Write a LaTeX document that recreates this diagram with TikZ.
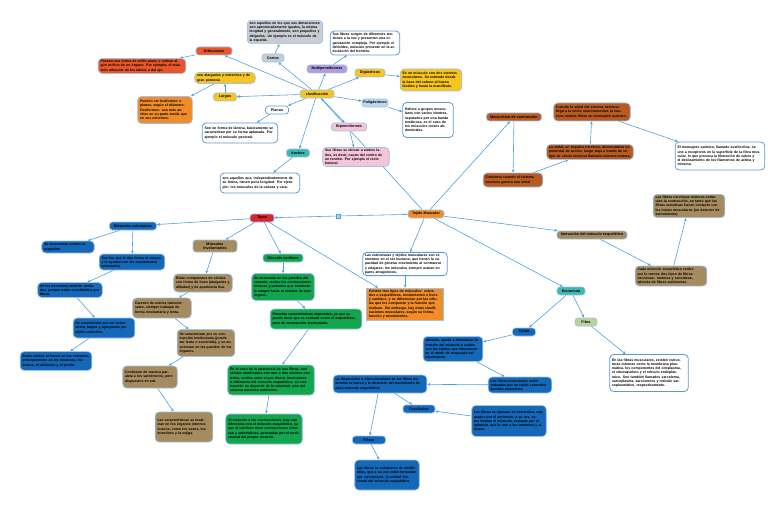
\documentclass[tikz,border=0pt]{standalone}
\usepackage{fontspec}
\setmainfont{Liberation Sans}
\usetikzlibrary{arrows.meta}
\definecolor{linec}{HTML}{4FA3DB}
\definecolor{bord}{HTML}{9DC3E6}
\definecolor{wbord}{HTML}{5B9BD5}
\definecolor{cblue}{HTML}{1567B8}
\definecolor{ctan}{HTML}{A58B5E}
\definecolor{crust}{HTML}{B85B22}
\definecolor{cgreen}{HTML}{13A54E}
\definecolor{corange}{HTML}{F28C28}
\definecolor{cred}{HTML}{D9262E}
\definecolor{cored}{HTML}{E8562A}
\definecolor{cyellow}{HTML}{F7C51E}
\definecolor{cteal}{HTML}{3DB8B3}
\definecolor{clgreen}{HTML}{B8D49C}
\definecolor{cpink}{HTML}{F6C4DA}
\definecolor{clblue}{HTML}{BCD8F0}
\definecolor{cpurple}{HTML}{B49BD9}
\definecolor{cgrey}{HTML}{C8CDD3}
\pgfdeclarelayer{background}
\pgfsetlayers{background,main}
\tikzset{
  box/.style={rounded corners=4pt, draw=bord, line width=0.7pt, inner xsep=2.3pt, inner ysep=1.5pt, align=left, font=\fontsize{3.5}{4.25}\selectfont\bfseries},
  wbox/.style={box, fill=white, draw=wbord, line width=0.8pt},
  lab/.style={rounded corners=3pt, draw=bord, line width=0.7pt, inner sep=1pt, minimum height=8pt, align=center, font=\fontsize{3.7}{4.4}\selectfont\bfseries},
  conn/.style={draw=linec, line width=0.6pt, -{Stealth[length=3.2pt,width=2.8pt]}},
  plain/.style={draw=linec, line width=0.6pt}
}
\begin{document}
\begin{tikzpicture}[x=1pt,y=-1pt]
\path[use as bounding box] (0,0) rectangle (768,508);
% ---------- top cluster ----------
\node[lab, fill=cyellow, minimum width=34pt] (clasif) at (317,94) {clasificación};
\node[lab, fill=cgrey, minimum width=22pt] (cortos) at (273,58) {Cortos};
\node[box, fill=cgrey, text width=71pt, minimum height=22pt] (cortosT) at (285,32) {son aquellos en los que sus dimensiones son aproximadamente iguales, la misma longitud y generalmente, son pequeños y delgados. Un ejemplo es el músculo de la espalda.};
\node[lab, fill=cored, minimum width=36pt] (orbic) at (214,51) {Orbiculares};
\node[box, fill=cored, text width=83pt, minimum height=15pt] (orbicT) at (142,66) {Poseen una forma de anillo plano y rodean algún orificio de un órgano. Por ejemplo, el músculo orbicular de los labios o del ojo.};
\node[box, fill=cyellow, text width=56pt, minimum height=11pt] (largosT) at (225,78) {son alargados y estrechos y de gran potencia};
\node[lab, fill=cyellow, minimum width=23pt] (largos) at (225,97) {Largos};
\node[box, fill=corange, text width=50pt, minimum height=27pt] (largosT2) at (165,110) {Pueden ser fusiformes o planos, según el diámetro. Fusiformes: son más anchos en su parte media que en sus extremos.};
\node[lab, fill=white, draw=wbord, minimum width=23pt] (planos) at (277,110) {Planos};
\node[wbox, text width=71pt, minimum height=20pt] (planosT) at (240,133) {Son en forma de lámina, básicamente se caracterizan por su forma aplanada. Por ejemplo el músculo pectoral.};
\node[lab, fill=cpurple, minimum width=40pt] (multi) at (327,69) {Multipenniformes};
\node[wbox, text width=65pt, minimum height=24pt] (multiT) at (365,43) {Sus fibras surgen de diferentes tendones a la vez y presentan una organización compleja. Por ejemplo el deltoides, músculo presente en la articulación del hombro.};
\node[lab, fill=cyellow, minimum width=30pt] (digas) at (370,73) {Digástricos};
\node[box, fill=cyellow, text width=57pt, minimum height=22pt] (digasT) at (431,80) {Es un músculo con dos vientres musculares. Se extiende desde la base del cráneo al hueso hioides y hasta la mandíbula.};
\node[lab, fill=clblue, minimum width=26pt] (polig) at (375,103) {Poligástricos};
\node[wbox, text width=46pt, minimum height=35pt] (poligT) at (428,120) {Refiere a grupos musculares con varios vientres, separados por una banda tendinosa, es el caso de los músculos rectos abdominales.};
\node[lab, fill=cpink, minimum width=35pt] (bipen) at (349,127) {Bipenniformes};
\node[box, fill=cpink, text width=62pt, minimum height=19pt] (bipenT) at (356,157) {Sus fibras se ubican a ambos lados, es decir, nacen del centro de un tendón. Por ejemplo el recto femoral.};
\node[lab, fill=cteal, minimum width=23pt] (anchos) at (298,153) {Anchos};
\node[wbox, text width=75pt, minimum height=20pt] (anchosT) at (260,183) {son aquellos que, independientemente de su forma, tienen poca longitud. Por ejemplo: los músculos de la cabeza y cara.};
% ---------- centre ----------
\node[lab, fill=corange, minimum width=36pt] (tejido) at (426,214) {Tejido Muscular};
\node[draw=linec, fill=linec!50, minimum size=4pt, inner sep=0pt] (sq) at (338,216) {};
\node[wbox, text width=80pt, minimum height=23pt] (whiteT) at (405,264) {Las estructuras y tejidos musculares son elementos en el ser humano, que tienen la capacidad de generar movimiento al contraerse y relajarse; los músculos siempre actúan en pares antagónicos.};
\node[box, rounded corners=0pt, fill=corange, text width=72pt, minimum height=29pt] (orangeT) at (405,304) {Existen tres tipos de músculos: estriados o esqueléticos, involuntarios o lisos y cardíaco, y se diferencian por las células que los componen y la función que realizan. Sin embargo, hay otras clasificaciones musculares, según su forma, función y movimientos.};
% ---------- contraction ----------
\node[lab, fill=crust, minimum width=55pt] (contr) at (514,117) {Mecanismo de contracción};
\node[box, fill=crust, text width=55pt, minimum height=14pt] (contr1) at (513,180) {Comienza cuando el sistema nervioso genera una señal};
\node[box, fill=crust, text width=82pt, minimum height=15pt] (contr2) at (590,152) {La señal, un impulso nervioso, desencadena un potencial de acción, luego viaja a través de un tipo de célula nerviosa llamada neurona motora.};
\node[box, fill=crust, text width=72pt, minimum height=18pt] (contr3) at (592,112) {Cuando la señal del sistema nervioso llega a la unión neuromuscular, la neurona motora libera un mensajero químico.};
\node[wbox, text width=85pt, minimum height=28pt] (contr4) at (720,156) {El mensajero químico, llamado acetilcolina, se une a receptores en la superficie de la fibra muscular, lo que provoca la liberación de calcio y el deslizamiento de los filamentos de actina y miosina.};
% ---------- innervation ----------
\node[lab, fill=ctan, minimum width=70pt] (inerv) at (592,235) {Inervación del músculo esquelético};
\node[box, fill=ctan, text width=67pt, minimum height=20pt] (inervT1) at (671,276) {Cada músculo esquelético recibe por lo menos dos tipos de fibras nerviosas: motoras y sensitivas, además de fibras autónomas.};
\node[box, fill=ctan, text width=67pt, minimum height=22pt] (inervT2) at (689,206) {Las fibras nerviosas motoras estimulan la contracción, en tanto que las fibras sensitivas hacen contacto con los husos musculares (un detector de estiramiento).};
% ---------- structure ----------
\node[lab, fill=cteal, minimum width=28pt] (estr) at (571,291) {Estructura};
\node[lab, fill=cblue, minimum width=23pt] (estrA) at (524,332) {Tejido};
\node[lab, fill=clgreen, minimum width=22pt] (fibra) at (586,322) {Fibra};
\node[wbox, text width=74pt, minimum height=37pt] (fibraT) at (649,373) {En las fibras musculares, existen estructuras internas como la membrana plasmática, los componentes del citoplasma, el citoesqueleto y el retículo endoplásmico. Son también llamados sarcolema, sarcoplasma, sarcómeros y retículo sarcoplasmático, respectivamente.};
\node[box, fill=cblue, text width=55pt, minimum height=25pt] (estrAT) at (453,349) {Además, ayuda a determinar la función del músculo y cuáles son los tejidos que intervienen en el modo de respuesta del movimiento.};
\node[box, fill=cblue, text width=59pt, minimum height=16pt] (estrB) at (520,385) {Las fibras musculares están rodeadas por un tejido conectivo llamado endomisio.};
\node[box, fill=cblue, text width=89pt, minimum height=18pt] (estrC) at (380,384) {La disposición o direccionalidad de las fibras determina la fuerza y la dirección del movimiento de cada músculo esquelético.};
\node[lab, fill=cblue, minimum width=32pt] (fasc) at (419,409) {Fascículos};
\node[box, fill=cblue, text width=70pt, minimum height=31pt] (fascT) at (509,421) {Las fibras se agrupan en fascículos, separados por el perimisio; a su vez, estos forman el músculo, rodeado por el epimisio, que lo une a los tendones y al hueso.};
\node[lab, fill=cblue, minimum width=33pt] (fibras) at (369,440) {Fibras};
\node[box, fill=cblue, text width=60pt, minimum height=30pt] (fibrasT) at (387,475) {Las fibras se componen de miofibrillas, que a su vez están formadas por sarcómeros, la unidad funcional del músculo esquelético.};
% ---------- types ----------
\node[lab, fill=cred, minimum width=24pt] (tipos) at (262,218) {Tipos};
\node[lab, fill=cblue, minimum width=47pt] (esq) at (133,226) {Músculos voluntarios};
\node[box, fill=cblue, text width=48pt, minimum height=12pt] (esq1) at (68,247) {Se encuentran unidos al esqueleto};
\node[box, fill=cblue, text width=61pt, minimum height=16pt] (esq2) at (132,262) {Son los que le dan forma al cuerpo y le ayudan con los movimientos voluntarios.};
\node[box, fill=cblue, text width=60pt, minimum height=15pt] (esq3) at (70,290) {Se les denomina también estriados, porque están constituidos por fibras.};
\node[box, fill=cblue, text width=57pt, minimum height=20pt] (esq4) at (104,328) {Se caracterizan por ser voluntarios, largos y agrupados por tejido conectivo.};
\node[box, fill=cblue, text width=67pt, minimum height=19pt] (esq5) at (56,361) {Están unidos al hueso en los extremos, principalmente en los tendones, los brazos, el abdomen y el pecho.};
\node[lab, fill=ctan, minimum width=44pt, minimum height=12pt] (card) at (215,246) {Músculos\\involuntarios};
\node[box, fill=ctan, text width=54pt, minimum height=18pt] (card1) at (203,283) {Están compuestos de células con forma de huso (alargadas y afiladas) y de apariencia lisa.};
\node[box, fill=ctan, text width=54pt, minimum height=20pt] (card2) at (162,308) {Carecen de estrías transversales, siempre trabajan de forma involuntaria y lenta.};
\node[box, fill=ctan, text width=53pt, minimum height=27pt] (card3) at (206,343) {Se caracterizan por su contracción involuntaria (puede ser lenta o sostenida), y se encuentran en las paredes de los órganos.};
\node[box, fill=ctan, text width=50pt, minimum height=22pt] (card4) at (150,377) {Contienen de manera paralela a los sarcómeros, pero dispuestos en red.};
\node[box, fill=ctan, text width=53pt, minimum height=30pt] (card5) at (184,427) {Las características se localizan en los órganos internos huecos, como los vasos, los intestinos y la vejiga.};
\node[lab, fill=cgreen, minimum width=40pt] (liso) at (283,258) {Músculo cardíaco};
\node[box, fill=cgreen, text width=58pt, minimum height=27pt] (liso1) at (283,287) {Se encuentra en las paredes del corazón, realiza las contracciones rítmicas y potentes que bombean la sangre hacia el exterior de este órgano.};
\node[box, fill=cgreen, text width=87pt, minimum height=20pt] (liso2) at (316,319) {Presenta características especiales, ya que se puede decir que es estriado como el esquelético, pero de contracción involuntaria.};
\node[box, fill=cgreen, text width=82pt, minimum height=30pt] (liso3) at (271,380) {En el caso de la apariencia de sus fibras, son células ramificadas con uno o dos núcleos centrales, unidas entre sí por discos intercalares. A diferencia del músculo esquelético, su contracción no depende de la voluntad, sino del sistema nervioso autónomo.};
\node[box, fill=cgreen, text width=72pt, minimum height=30pt] (liso4) at (264,429) {Al respecto a las contracciones, hay una diferencia con el músculo esquelético, ya que el cardíaco tiene contracciones rítmicas y automáticas, generadas por el nodo sinusal del propio corazón.};
% ---------- connectors ----------
\begin{pgfonlayer}{background}
\fill[white] (0,0) rectangle (768,508);
\draw[conn] (tejido) -- (clasif);
\draw[conn] (clasif) -- (cortos);
\draw[conn] (cortos) -- (cortosT);
\draw[conn] (clasif) -- (orbic);
\draw[conn] (orbic) -- (orbicT);
\draw[conn] (clasif) -- (largos);
\draw[conn] (largos) -- (largosT);
\draw[conn] (largosT) -- (largosT2);
\draw[conn] (clasif) -- (planos);
\draw[conn] (planos) -- (planosT);
\draw[conn] (clasif) -- (multi);
\draw[conn] (multi) -- (multiT);
\draw[conn] (clasif) -- (digas);
\draw[conn] (digas) -- (digasT);
\draw[conn] (clasif) -- (polig);
\draw[conn] (polig) -- (poligT);
\draw[conn] (clasif) -- (bipen);
\draw[conn] (bipen) -- (bipenT);
\draw[conn] (clasif) -- (anchos);
\draw[conn] (anchos) -- (anchosT);
\draw[conn] (tejido) -- (contr);
\draw[conn] (contr) -- (contr1);
\draw[conn] (contr1) -- (contr2);
\draw[conn] (contr2) -- (contr3);
\draw[conn] (contr3) -- (contr4);
\draw[conn] (tejido) -- (inerv);
\draw[conn] (inerv) -- (inervT1);
\draw[conn] (inervT1) -- (inervT2);
\draw[conn] (tejido) -- (whiteT);
\draw[conn] (whiteT) -- (orangeT);
\draw[conn] (tejido) -- (estr);
\draw[conn] (estr) -- (estrA);
\draw[conn] (estr) -- (fibra);
\draw[conn] (fibra) -- (fibraT);
\draw[conn] (estrA) -- (estrAT);
\draw[conn] (estrAT) -- (estrB);
\draw[conn] (estrB) -- (estrC);
\draw[conn] (estrC) -- (fasc);
\draw[conn] (fascT) -- (fasc);
\draw[conn] (estrC) -- (fibras);
\draw[conn] (fibras) -- (fibrasT);
\draw[plain] (tejido) -- (sq);
\draw[conn] (sq) -- (tipos);
\draw[conn] (tipos) -- (orangeT);
\draw[conn] (tipos) -- (esq);
\draw[conn] (tipos) -- (card);
\draw[conn] (tipos) -- (liso);
\draw[conn] (esq) -- (esq1);
\draw[conn] (esq) -- (esq2);
\draw[conn] (esq2) -- (esq3);
\draw[conn] (esq3) -- (esq4);
\draw[conn] (esq4) -- (esq5);
\draw[conn] (card) -- (card1);
\draw[conn] (card1) -- (card2);
\draw[conn] (card2) -- (card3);
\draw[conn] (card3) -- (card4);
\draw[conn] (card4) -- (card5);
\draw[conn] (liso) -- (liso1);
\draw[conn] (liso1) -- (liso2);
\draw[conn] (liso2) -- (liso3);
\draw[conn] (liso3) -- (liso4);
\end{pgfonlayer}
\end{tikzpicture}
\end{document}
